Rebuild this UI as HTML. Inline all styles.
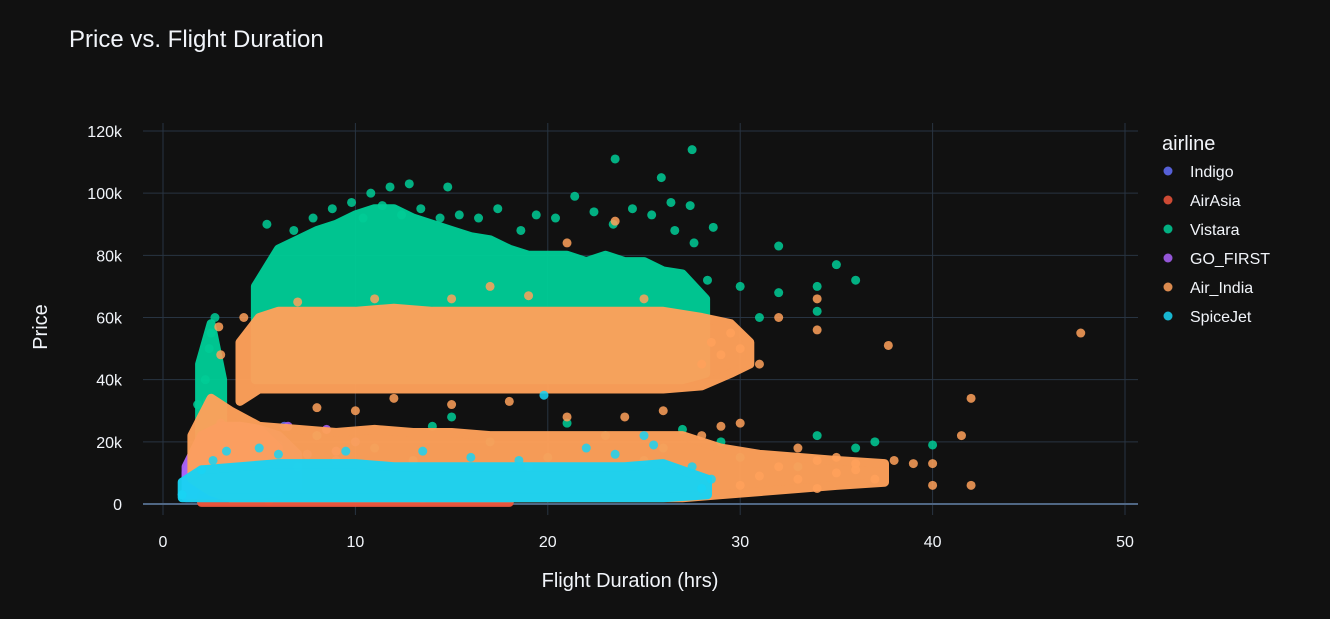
<!DOCTYPE html>
<html><head><meta charset="utf-8"><style>
body{margin:0;background:#111111;}
svg{display:block;font-family:"Liberation Sans",sans-serif;}
</style></head><body>
<svg id="chart" width="1330" height="619">
<rect width="1330" height="619" fill="#111111"/>
<text x="69" y="47" font-size="24" fill="#f2f5fa">Price vs. Flight Duration</text>
<g id="grid"></g>
<g id="marks"></g>
<g id="axes"></g>
<text x="630" y="587" font-size="20" fill="#f2f5fa" text-anchor="middle">Flight Duration (hrs)</text>
<text x="47" y="327" font-size="20" fill="#f2f5fa" text-anchor="middle" transform="rotate(-90 47 327)">Price</text>
<g id="legend">
<text x="1162" y="150" font-size="20" fill="#f2f5fa">airline</text>
</g>
</svg>
<script>
const xTicks=[0,10,20,30,40,50];
const yTicks=[0,20,40,60,80,100,120];
const yTickLabels=["0","20k","40k","60k","80k","100k","120k"];
const airlines=["Indigo","AirAsia","Vistara","GO_FIRST","Air_India","SpiceJet"];
const colors=["#636efa","#EF553B","#00cc96","#ab63fa","#FFA15A","#19d3f3"];

// dense-core envelopes per duration bin (price in k)
const indigoBandX=[1.2,2,3,4,5,6,7];
const indigoBandLo=[2,2,2,2,3,3,4];
const indigoBandHi=[10,20,24,25,24,22,16];
const airasiaBandX=[2,4,6,8,10,12,14,16,18];
const airasiaBandLo=[0.5,0.5,0.5,0.5,0.5,0.5,0.5,0.5,0.5];
const airasiaBandHi=[3,3,3,3,3,3,3,3,2.5];
const vistaraBandX=[1.9,2.5,3.1];
const vistaraBandLo=[20,22,25];
const vistaraBandHi=[45,58,40];
const vistaraCoreX=[4.8,6,7,8,9,10,11,12,13,14,15,16,17,18,19,20,21,22,23,24,25,26,27,28.2];
const vistaraCoreLo=[40,40,40,40,40,40,40,40,40,40,40,40,40,40,40,40,40,40,40,40,40,40,40,42];
const vistaraCoreHi=[70,82,85,88,90,93,95,95,92,90,88,86,85,82,80,80,80,78,80,78,78,75,74,66];
const gofirstBandX=[1.2,2,3,4,5,6];
const gofirstBandLo=[3,3,3,3,3,4];
const gofirstBandHi=[12,22,25,25,24,18];
const airindiaBandX=[1.5,2.5,3.5,5,7,9,11,13,15,17,19,21,23,25,27,29,31,33,35,37.5];
const airindiaBandLo=[8,4,2,2,2,2,2,2,2,2,2,2,2,2,2,3,4,5,6,7];
const airindiaBandHi=[22,34,30,25,24,23,24,23,23,22,22,22,22,22,22,18,16,15,14,13];
const airindiaCoreX=[4,5,6,8,10,12,14,16,18,20,22,24,26,28,29.5,30.5];
const airindiaCoreLo=[33,37,37,37,37,37,37,37,37,37,37,37,37,38,42,45];
const airindiaCoreHi=[52,60,62,62,62,63,62,62,62,62,62,62,62,60,58,52];
const spicejetBandX=[1,2,4,6,8,10,12,14,16,18,20,22,24,26,28.3];
const spicejetBandLo=[2,2,2,2,2,2,2,2,2,2,2,2,2,2,3];
const spicejetBandHi=[7,11,12,13,13,13,12,12,12,12,12,12,12,13,8];

const indigoPts=[[1,3],[1.3,6],[1.5,10],[1.8,14],[2.5,12],[2.8,18],[3.6,15],[4,20],[4.8,17],[5,23],[6,19],[6.3,25],[7.5,16],[8,22],[9,14],[10,20]];
const airasiaPts=[[1.5,2],[5.5,1],[9.5,2.5],[13.5,1.5],[17.5,2],[6,4],[9,4.5],[12,4]];
const vistaraPts=[[2,25],[2.2,40],[2.4,50],[2.5,55],[2.7,60],[2.3,33],[1.8,32],
[5.4,90],[6.8,88],[7.8,92],[8.8,95],[9.8,97],[10.4,92],[10.8,100],[11.4,96],[11.8,102],[12.4,93],[12.8,103],[13.4,95],[14.4,92],[14.8,102],[15.4,93],[16.4,92],[17.4,95],[18.6,88],[19.4,93],[20.4,92],[21.4,99],[22.4,94],[23.4,90],[23.5,111],[24.4,95],[25.4,93],[25.9,105],[26.4,97],[26.6,88],[27.4,96],[27.5,114],[28.6,89],[27.6,84],[28.3,72],
[5,15],[8,22],[11,18],[14,25],[17,20],[20,15],[23,22],[26,18],[29,20],[7,12],[13,14],[19,12],[25,14],[15,28],[21,26],[27,24],
[30,70],[31,60],[32,83],[32,68],[34,70],[34,62],[35,77],[36,72],[34,22],[36,18],[37,20],[40,19],[30,15],[33,12]];
const gofirstPts=[[1.6,12],[2.8,22],[4.4,24],[6.5,25],[8.5,24],[9,17],[3,26]];
const airindiaPts=[[3,48],[2.9,57],[4.2,60],[7,65],[11,66],[15,66],[19,67],[23.5,91],[25,66],[21,84],[17,70],
[28,45],[28.5,52],[29,48],[29.5,55],[30,50],[31,45],[32,60],[34,56],[34,66],[37.7,51],[47.7,55],
[8,31],[10,30],[15,32],[21,28],[26,30],[12,34],[18,33],[24,28],[28,22],[29,25],[30,26],
[31,9],[32,12],[33,8],[34,14],[35,10],[36,13],[37,8],[38,14],[39,13],[40,6],[40,13],[41.5,22],[42,34],[42,6],[35,15],[33,18],[30,6],[34,5],[36,11]];
const spicejetPts=[[1,3],[2,11],[2.6,14],[3.3,17],[6,16],[9.5,17],[13.5,17],[16,15],[18.5,14],[19.8,35],[23.5,16],[25.5,19],[25,22],[22,18],[5,18],[27.5,12],[28,5],[28.5,8]];

const series=[indigoPts,airasiaPts,vistaraPts,gofirstPts,airindiaPts,spicejetPts];
const bands=[[[indigoBandX,indigoBandLo,indigoBandHi]],[[airasiaBandX,airasiaBandLo,airasiaBandHi]],[[vistaraBandX,vistaraBandLo,vistaraBandHi],[vistaraCoreX,vistaraCoreLo,vistaraCoreHi]],[[gofirstBandX,gofirstBandLo,gofirstBandHi]],[[airindiaBandX,airindiaBandLo,airindiaBandHi],[airindiaCoreX,airindiaCoreLo,airindiaCoreHi]],[[spicejetBandX,spicejetBandLo,spicejetBandHi]]];
const NS="http://www.w3.org/2000/svg";
const X0=163,X1=1125,XMAX=50,Y0=504,Y1=131,YMAX=120;
function sx(v){return X0+(X1-X0)*v/XMAX;}
function sy(v){return Y0-(Y0-Y1)*v/YMAX;}
function mk(tag,attrs,parent){const e=document.createElementNS(NS,tag);for(const k in attrs)e.setAttribute(k,attrs[k]);parent.appendChild(e);return e;}
const grid=document.getElementById('grid'),axes=document.getElementById('axes'),marks=document.getElementById('marks'),legend=document.getElementById('legend');
xTicks.forEach(t=>{
 const l=mk('line',{x1:sx(t),x2:sx(t),y1:123,y2:515,stroke:'#283442','stroke-width':1},grid);
 
 
 const tx=mk('text',{x:sx(t),y:547,'font-size':16,fill:'#f2f5fa','text-anchor':'middle'},axes);
 tx.textContent=t;
 
 
});
yTicks.forEach((t,i)=>{
 const l=mk('line',{x1:143,x2:1138,y1:sy(t),y2:sy(t),stroke:t===0?'#506784':'#283442','stroke-width':t===0?2:1},grid);
 
 
 const tx=mk('text',{x:122,y:sy(t)+6,'font-size':16,fill:'#f2f5fa','text-anchor':'end'},axes);
 tx.textContent=yTickLabels[i];
 
 
});
series.forEach((pts,si)=>{
 const g=mk('g',{fill:colors[si]},marks);
 
 
 bands[si].forEach(b=>{
  const bx=b[0],lo=b[1],hi=b[2];
  let d='';
  bx.forEach((x,i)=>{d+=(i?'L':'M')+sx(x).toFixed(1)+','+sy(hi[i]).toFixed(1);});
  for(let i=bx.length-1;i>=0;i--){d+='L'+sx(bx[i]).toFixed(1)+','+sy(lo[i]).toFixed(1);}
  d+='Z';
  const p=mk('path',{d:d,opacity:0.96,stroke:colors[si],'stroke-width':9,'stroke-linejoin':'round'},g);
  
  
 });
 pts.forEach(p=>{
  const c=mk('circle',{cx:sx(p[0]),cy:sy(p[1]),r:4.5,'fill-opacity':0.85},g);
  
  
 });
});
airlines.forEach((a,i)=>{
 const y=171+29*i;
 const g=mk('g',{},legend);
 
 
 mk('circle',{cx:1168,cy:y,r:4.5,fill:colors[i],'fill-opacity':0.85},g);
 const t=mk('text',{x:1190,y:y+6,'font-size':16,fill:'#f2f5fa'},g);
 t.textContent=a;
});
</script>
</body></html>
